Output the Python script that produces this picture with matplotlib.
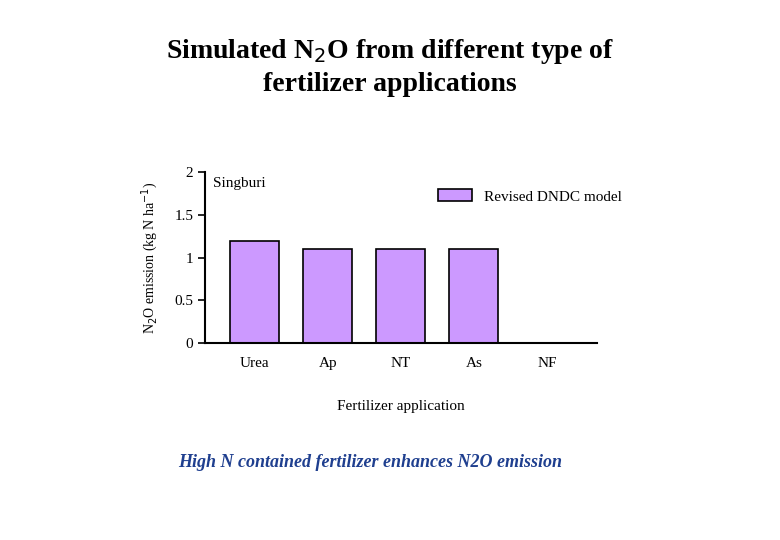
import matplotlib
matplotlib.use("Agg")
from matplotlib import pyplot as plt

categories = ['Urea', 'Ap', 'NT', 'As', 'NF']
n2o_values = [1.2, 1.1, 1.1, 1.1, 0.0]
y_ticks = [0, 0.5, 1, 1.5, 2]
y_tick_labels = ['0', '0.5', '1', '1.5', '2']

plt.rcParams['font.family'] = ['Liberation Serif', 'DejaVu Serif']

fig = plt.figure(figsize=(7.8, 5.4), dpi=100)
ax = fig.add_axes([0.263, 0.365, 0.502, 0.316])

x = range(len(categories))
ax.bar(x, n2o_values, width=0.67, color='#cc99ff', edgecolor='black',
       linewidth=1.2, label='Revised DNDC model')
ax.set_xlim(-0.68, 4.68)
ax.set_ylim(0, 2)
ax.set_xticks(list(x))
ax.set_xticklabels(categories, fontsize=11)
ax.set_yticks(y_ticks)
ax.set_yticklabels(y_tick_labels, fontsize=11)
ax.tick_params(axis='x', length=0, pad=10)
ax.tick_params(axis='y', direction='out', length=5, width=1.2)
for side in ['top', 'right']:
    ax.spines[side].set_visible(False)
for side in ['left', 'bottom']:
    ax.spines[side].set_linewidth(1.5)
ax.set_xlabel('Fertilizer application', fontsize=11, labelpad=22)
ax.set_ylabel('N$_2$O emission (kg N ha$^{-1}$)', fontsize=10, labelpad=10)
ax.text(0.02, 0.97, 'Singburi', transform=ax.transAxes, fontsize=11, va='top')
ax.legend(loc='upper right', bbox_to_anchor=(1.1, 0.98), frameon=False,
          fontsize=11, handlelength=2.2, handleheight=0.8)

fig.text(0.5, 0.876, 'Simulated N$_2$O from different type of\nfertilizer applications',
         ha='center', va='center', fontsize=20, fontweight='bold', linespacing=1.3)
fig.text(0.475, 0.143, 'High N contained fertilizer enhances N2O emission',
         ha='center', va='center', fontsize=13, fontweight='bold',
         fontstyle='italic', color='#1f3f8f')

fig.savefig('out.png', dpi=100)
